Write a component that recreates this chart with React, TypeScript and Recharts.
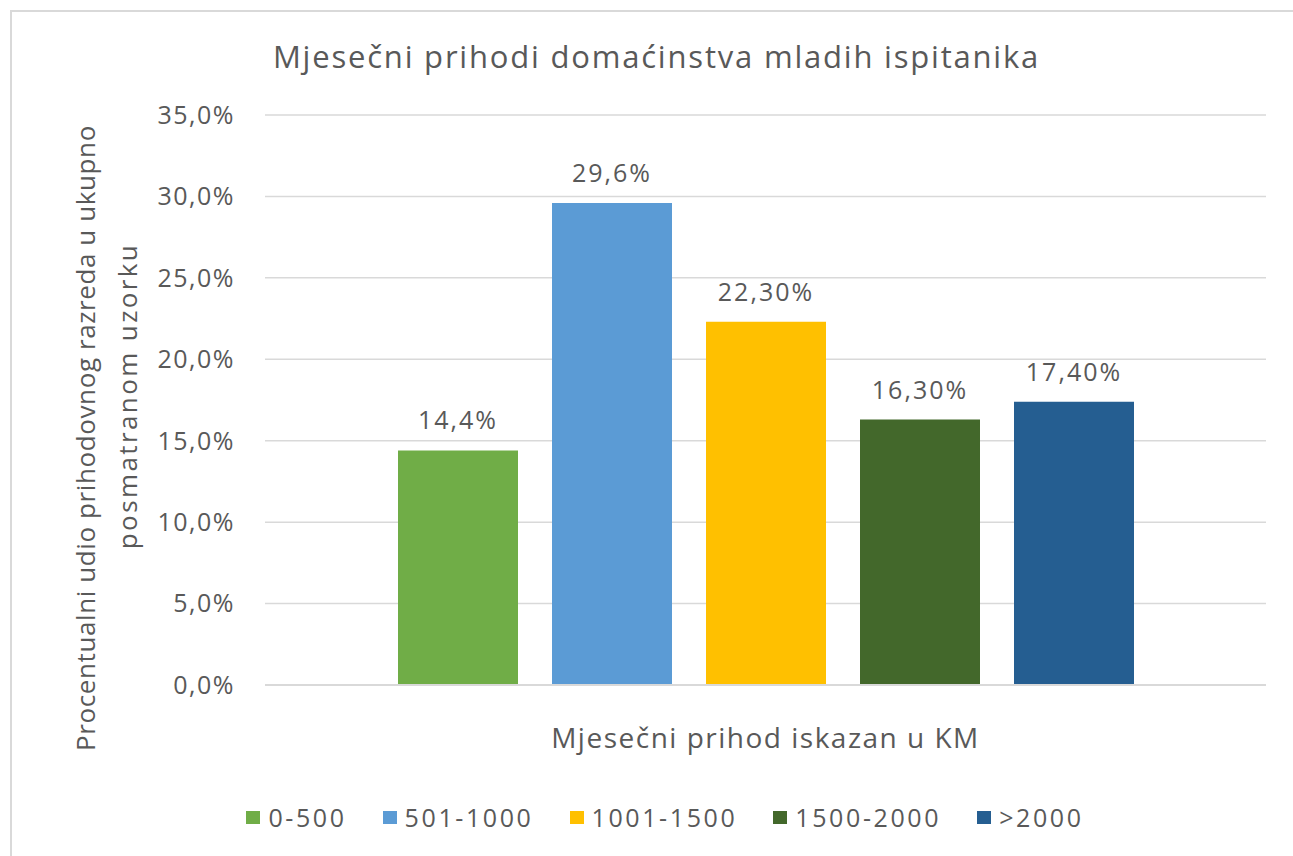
import React from 'react';
import { BarChart, Bar, XAxis, YAxis, CartesianGrid, Legend, LabelList, Label } from 'recharts';

const seriesNames = ['0-500', '501-1000', '1001-1500', '1500-2000', '>2000'];
const seriesValues = [14.4, 29.6, 22.3, 16.3, 17.4];
const seriesLabels = ['14,4%', '29,6%', '22,30%', '16,30%', '17,40%'];
const seriesColors = ['#70ad47', '#5b9bd5', '#ffc000', '#43682b', '#255e91'];
const yTicks = [0, 5, 10, 15, 20, 25, 30, 35];
const yTickLabels = ['0,0%', '5,0%', '10,0%', '15,0%', '20,0%', '25,0%', '30,0%', '35,0%'];

const keys = seriesNames.map((_, i) => 's' + i);
const row: Record<string, any> = { name: '' };
keys.forEach((k, i) => { row[k] = seriesValues[i]; });
const data = [row];

const FONT = '"Open Sans", sans-serif';
const GRAY = '#595959';

const YLabel = (props: any) => {
  const x1 = 85;
  const y1 = 438;
  const x2 = 127;
  const y2 = 396;
  return (
    <g>
      <text x={x1} y={y1} transform={`rotate(-90, ${x1}, ${y1})`} textAnchor="middle" dominantBaseline="central" fontSize={26} letterSpacing={0.6} fill={GRAY} fontFamily={FONT}>
        Procentualni udio  prihodovnog razreda u ukupno
      </text>
      <text x={x2} y={y2} transform={`rotate(-90, ${x2}, ${y2})`} textAnchor="middle" dominantBaseline="central" fontSize={26} letterSpacing={2.4} fill={GRAY} fontFamily={FONT}>
        posmatranom uzorku
      </text>
    </g>
  );
};

const XLabel = (props: any) => {
  const vb = props.viewBox;
  return (
    <text x={vb.x + vb.width / 2} y={737} textAnchor="middle" dominantBaseline="central" fontSize={28} letterSpacing={1.5} fill={GRAY} fontFamily={FONT}>
      Mjesečni prihod iskazan u KM
    </text>
  );
};

const LegendContent = () => (
  <div style={{ display: 'flex', justifyContent: 'center', alignItems: 'center', paddingLeft: 64, fontFamily: FONT, fontSize: 25, letterSpacing: 2.6, color: GRAY, gap: 36 }}>
    {seriesNames.map((n, i) => (
      <div key={n} style={{ display: 'flex', alignItems: 'center' }}>
        <span style={{ display: 'inline-block', width: 14, height: 13, background: seriesColors[i], marginRight: 8 }} />
        <span>{n}</span>
      </div>
    ))}
  </div>
);

export default function App() {
  return (
    <div style={{ position: 'absolute', left: 0, top: 0, width: 1293, height: 856, overflow: 'hidden', background: '#fff' }}>
      <div style={{ position: 'absolute', left: 10, top: 10, width: 1300, height: 900, borderTop: '2px solid #d9d9d9', borderLeft: '2px solid #d9d9d9' }} />
      <div style={{ position: 'absolute', left: 0, top: 35, width: 1293, textAlign: 'center', fontFamily: FONT, fontSize: 31, letterSpacing: 1.8, color: GRAY, paddingLeft: 20, boxSizing: 'border-box' }}>
        Mjesečni prihodi domaćinstva mladih ispitanika
      </div>
      <div style={{ position: 'absolute', left: 0, top: 0 }}>
        <BarChart width={1293} height={856} data={data} margin={{ top: 115, right: 27, left: 0, bottom: 57 }} barCategoryGap={133} barGap={34}>
          <CartesianGrid vertical={false} stroke="#d9d9d9" strokeWidth={1.5} />
          <XAxis dataKey="name" tick={false} tickLine={false} axisLine={{ stroke: '#d9d9d9', strokeWidth: 2 }} height={80}>
            <Label content={<XLabel />} />
          </XAxis>
          <YAxis width={265} domain={[0, 35]} ticks={yTicks} interval={0} axisLine={false} tickLine={false}
            tickFormatter={(v: number) => yTickLabels[yTicks.indexOf(v)]}
            tick={{ fill: GRAY, fontSize: 25, fontFamily: FONT, letterSpacing: 1.5 }} tickMargin={24}>
            <Label content={<YLabel />} />
          </YAxis>
          <Legend verticalAlign="bottom" content={<LegendContent />} wrapperStyle={{ bottom: 22 }} />
          {keys.map((k, i) => (
            <Bar key={k} dataKey={k} name={seriesNames[i]} fill={seriesColors[i]} isAnimationActive={false}>
              <LabelList dataKey={k} position="top" offset={21} formatter={() => seriesLabels[i]} style={{ fill: GRAY, fontSize: 25, fontFamily: FONT, letterSpacing: 2 }} />
            </Bar>
          ))}
        </BarChart>
      </div>
    </div>
  );
}
